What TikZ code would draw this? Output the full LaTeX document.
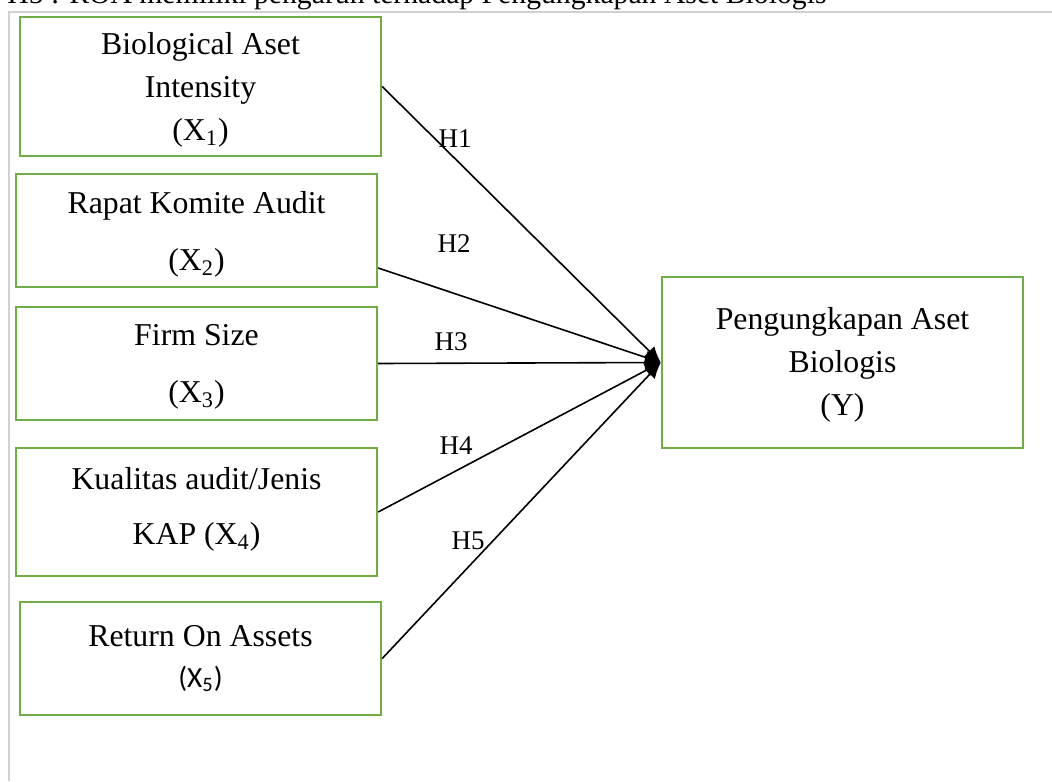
\documentclass[tikz,border=0pt]{standalone}
\usepackage{fontspec}
\setmainfont{Liberation Serif}
\newfontfamily\calibri{Carlito}
\usetikzlibrary{arrows.meta}
\definecolor{boxgreen}{RGB}{112,173,71}
\tikzset{
    varbox/.style = {draw = boxgreen, line width = 1.2pt, align = center, inner sep = 0pt, minimum width = 180.5pt},
    hyp/.style = {font = \fontsize{13.5pt}{16pt}\selectfont, inner sep = 0pt},
    link/.style = {-{Latex[length = 8pt, width = 7pt]}, line width = 0.8pt}
}
\begin{document}
\begin{tikzpicture}[x = 0.5pt, y = -0.5pt, font = \fontsize{15.9pt}{21.5pt}\selectfont]
            \useasboundingbox (0,0) rectangle (1052,781);
            \clip (0,0) rectangle (1052,781);
            \node[anchor = base west, inner sep = 0pt, font = \fontsize{14.85pt}{18pt}\selectfont] (judul) at (7,4) {H5 : ROA memiliki pengaruh terhadap Pengungkapan Aset Biologis};
            \draw[black!18, line width = 1pt] (9,781) -- (9,12) -- (1052,12);
            \node[varbox, minimum height = 69.5pt, text depth = -5pt] (X1) at (200.5,86.5) {Biological Aset\\Intensity\\(X\textsubscript{1})};
            \node[varbox, minimum height = 56.5pt, text depth = -1.6pt] (X2) at (196.5,230.5) {Rapat Komite Audit\\[7pt](X\textsubscript{2})};
            \node[varbox, minimum height = 56.5pt, text depth = -2.6pt] (X3) at (196.5,363.5) {Firm Size\\[7pt](X\textsubscript{3})};
            \node[varbox, minimum height = 64pt, text depth = 6.4pt] (X4) at (196.5,512) {Kualitas audit/Jenis\\[6pt]KAP (X\textsubscript{4})};
            \node[varbox, minimum height = 56.5pt] (X5) at (200.5,658.5) {Return On Assets\\[-1pt]{\calibri\fontsize{14.6pt}{17pt}\selectfont (X\textsubscript{5})}};
            \node[varbox, minimum height = 85.5pt, text depth = 1.4pt] (Y) at (842.5,362.5) {Pengungkapan Aset\\Biologis\\(Y)};
            \draw[link] (X1.east) -- (Y.west);
            \draw[link] ([yshift = -18.75pt]X2.east) -- (Y.west);
            \draw[link] (X3.east) -- (Y.west);
            \draw[link] (X4.east) -- (Y.west);
            \draw[link] (X5.east) -- (Y.west);
            \node[hyp, anchor = base] (H1) at (455,147) {H1};
            \node[hyp, anchor = base] (H2) at (454,252) {H2};
            \node[hyp, anchor = base] (H3) at (451,350) {H3};
            \node[hyp, anchor = base] (H4) at (456,454) {H4};
            \node[hyp, anchor = base] (H5) at (468,549) {H5};
        \end{tikzpicture}
\end{document}
